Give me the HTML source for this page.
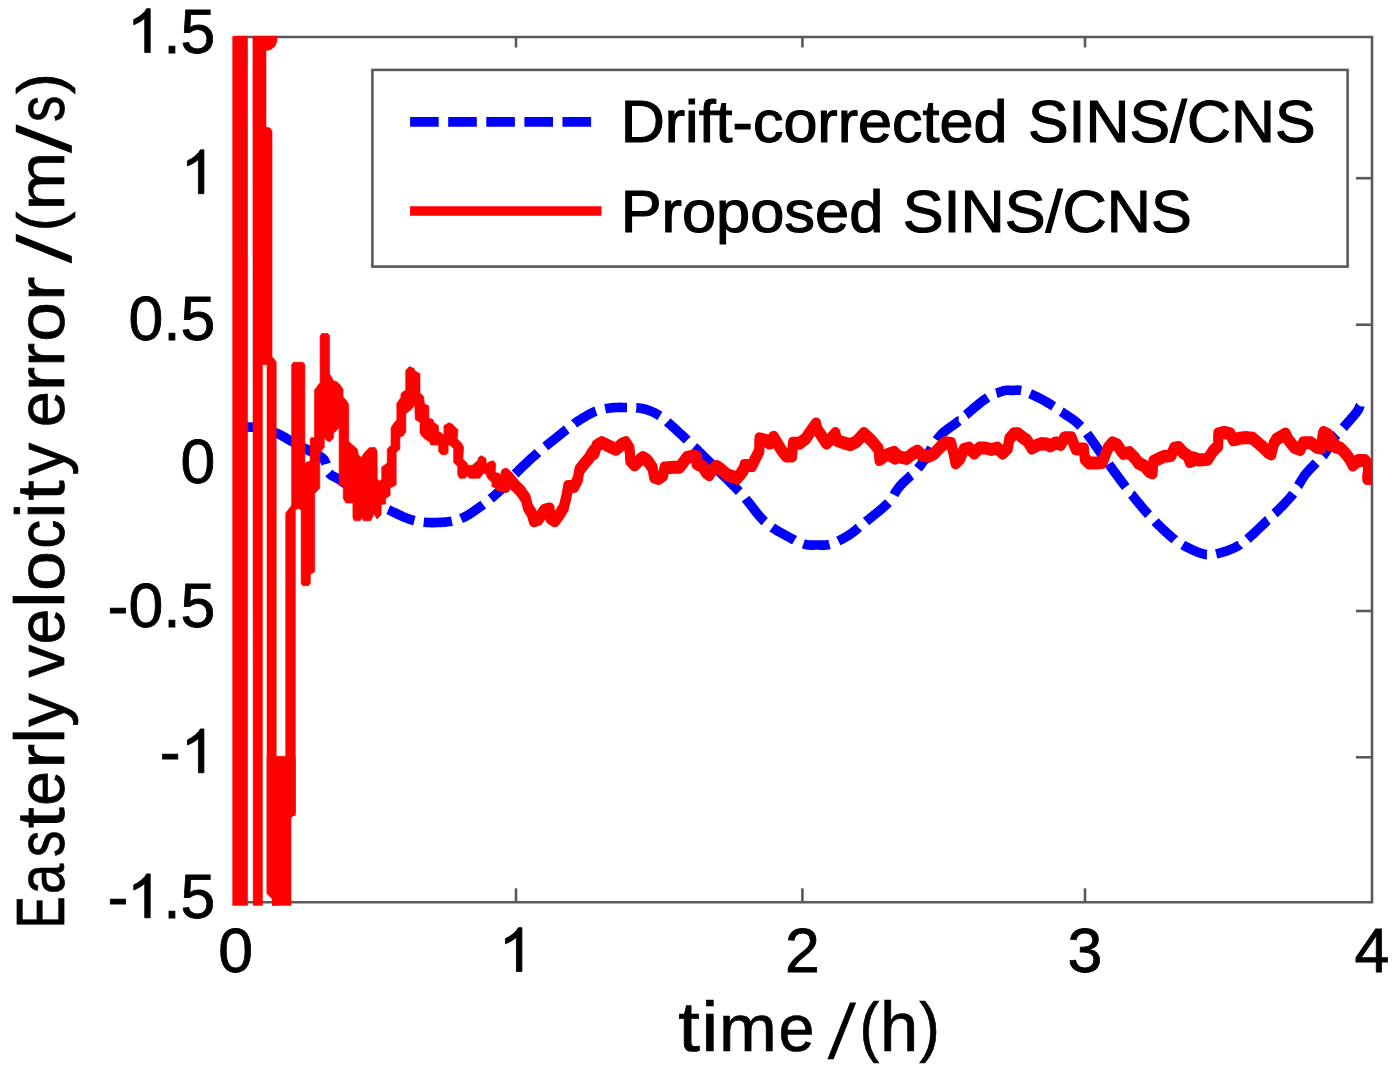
<!DOCTYPE html>
<html><head><meta charset="utf-8"><title>Easterly velocity error</title>
<style>html,body{margin:0;padding:0;background:#fff;}body{width:1400px;height:1073px;overflow:hidden;position:relative;}svg{display:block;position:absolute;left:0;top:0;}text{font-family:"Liberation Sans",sans-serif;fill:#000;}</style>
</head><body>
<svg width="1400" height="1073" viewBox="0 0 1400 1073">
<rect x="0" y="0" width="1400" height="1073" fill="#fff"/>
<g>
<g fill="none" stroke="#595959" stroke-width="2.6">
<polyline points="235.3,37.0 1372.0,37.0 1372.0,902.3 235.3,902.3"/>
<line x1="516.0" y1="902.3" x2="516.0" y2="888.3"/>
<line x1="516.0" y1="37.0" x2="516.0" y2="47.5"/>
<line x1="802.4" y1="902.3" x2="802.4" y2="888.3"/>
<line x1="802.4" y1="37.0" x2="802.4" y2="47.5"/>
<line x1="1085.0" y1="902.3" x2="1085.0" y2="888.3"/>
<line x1="1085.0" y1="37.0" x2="1085.0" y2="47.5"/>
<line x1="1372.0" y1="178.2" x2="1356.0" y2="178.2"/>
<line x1="1372.0" y1="324.7" x2="1356.0" y2="324.7"/>
<line x1="1372.0" y1="611.0" x2="1356.0" y2="611.0"/>
<line x1="1372.0" y1="757.3" x2="1356.0" y2="757.3"/>
</g>
<defs><clipPath id="c"><rect x="232.3" y="30" width="1139.2" height="875.7"/></clipPath></defs>
<g clip-path="url(#c)">
<polyline points="234.0,427.0 234.5,427.0 235.0,427.0 235.6,427.0 236.3,427.0 237.0,427.0 237.8,427.0 238.6,427.0 239.4,426.9 240.3,426.9 241.3,426.9 242.2,426.9 243.2,426.9 244.2,426.9 245.2,426.9 246.2,426.9 247.2,426.9 248.2,427.0 249.3,427.0 250.3,427.1 251.3,427.1 252.2,427.2 253.2,427.3 254.1,427.4 255.0,427.5 255.9,427.6 256.8,427.8 257.7,427.9 258.6,428.1 259.5,428.3 260.4,428.5 260.9,428.6" fill="none" stroke="#0000ff" stroke-width="9.6" stroke-linejoin="round"/>
<polyline points="270.1,431.0 270.3,431.1 271.2,431.3 272.0,431.6 272.8,431.9 273.7,432.2 274.5,432.4 275.2,432.7 276.0,433.0 276.7,433.3 277.5,433.6 278.2,433.9 278.9,434.2 279.5,434.5 280.2,434.8 280.8,435.2 281.5,435.5 282.1,435.8 282.7,436.2 283.3,436.5 283.9,436.9 284.5,437.2 285.1,437.6 285.7,437.9 286.3,438.3 286.9,438.6 287.5,439.0 288.0,439.3 288.6,439.7 289.2,440.0 289.8,440.3 290.4,440.7 291.0,441.0 291.6,441.3 292.2,441.6 292.8,442.0 293.3,442.2" fill="none" stroke="#0000ff" stroke-width="9.6" stroke-linejoin="round"/>
<polyline points="301.7,446.7 302.0,446.9 302.6,447.2 303.2,447.5 303.8,447.8 304.4,448.2 305.0,448.5 305.6,448.8 306.3,449.2 307.0,449.5 307.7,449.9 308.4,450.3 309.1,450.6 309.9,451.0 310.6,451.4 311.4,451.7 312.1,452.1 312.9,452.5 313.6,452.9 314.3,453.2 315.0,453.6 315.8,454.0 316.4,454.4 317.1,454.7 317.8,455.1 318.4,455.4 319.0,455.7 319.5,456.1 320.1,456.4 320.6,456.7 321.0,457.0 321.4,457.3 321.8,457.5 322.1,457.8 322.4,458.0 322.7,458.2 322.9,458.5 323.2,458.7 323.4,458.9 323.6,459.0 323.7,459.2 323.9,459.4 324.0,459.6 324.1,459.8 324.2,460.0 324.4,460.2 324.5,460.4 324.6,460.6 324.7,460.8 324.8,461.0 324.9,461.3 325.0,461.6 325.2,461.9 325.3,462.2 325.5,462.5 325.7,462.9 325.8,463.2 326.0,463.6 326.1,464.0" fill="none" stroke="#0000ff" stroke-width="9.6" stroke-linejoin="round"/>
<polyline points="329.1,473.0 329.2,473.1 329.5,473.5 329.8,473.8 330.1,474.2 330.4,474.5 330.7,474.7 331.0,475.0 331.3,475.2 331.7,475.4 332.0,475.6 332.3,475.8 332.7,476.0 333.1,476.2 333.4,476.4 333.8,476.6 334.3,476.8 334.7,477.0 335.2,477.2 335.7,477.5 336.2,477.7 336.8,478.0 337.3,478.4 337.9,478.7 338.6,479.1 339.3,479.5 340.0,480.0 340.8,480.5 341.6,481.1 342.4,481.6 343.3,482.3 344.3,482.9 345.2,483.6 346.2,484.3 347.3,485.0 348.3,485.8 349.4,486.5 350.5,487.3 351.1,487.7" fill="none" stroke="#0000ff" stroke-width="9.6" stroke-linejoin="round"/>
<polyline points="358.9,493.1 359.5,493.5 360.7,494.2 361.8,495.0 362.9,495.7 363.9,496.3 365.0,497.0 366.0,497.6 367.1,498.3 368.1,498.9 369.2,499.5 370.2,500.1 371.3,500.7 372.3,501.3 373.4,501.9 374.4,502.5 375.5,503.1 376.5,503.6 377.6,504.2 378.6,504.7 379.7,505.3 379.8,505.4" fill="none" stroke="#0000ff" stroke-width="9.6" stroke-linejoin="round"/>
<polyline points="388.3,509.7 389.0,510.0 390.0,510.5 391.0,511.0 392.0,511.5 393.1,512.0 394.1,512.5 395.1,512.9 396.1,513.4 397.1,513.9 398.1,514.4 399.1,514.9 400.1,515.3 401.1,515.8 402.1,516.2 403.1,516.7 404.1,517.1 405.1,517.5 406.1,517.9 407.1,518.3 408.1,518.6 409.1,519.0 410.1,519.3 411.1,519.7 412.0,520.0 413.0,520.2 414.0,520.5 414.4,520.6" fill="none" stroke="#0000ff" stroke-width="9.6" stroke-linejoin="round"/>
<polyline points="423.7,522.2 424.6,522.3 425.6,522.3 426.5,522.4 427.5,522.5 428.4,522.5 429.4,522.5 430.3,522.6 431.3,522.6 432.2,522.6 433.2,522.6 434.1,522.6 435.1,522.6 436.0,522.5 437.0,522.5 438.0,522.5 438.9,522.4 439.9,522.4 440.8,522.4 441.8,522.3 442.8,522.2 443.7,522.2 444.7,522.1 445.7,522.0 446.6,521.9 447.6,521.8 448.6,521.7 449.5,521.6 450.5,521.4 451.4,521.3 451.9,521.2" fill="none" stroke="#0000ff" stroke-width="9.6" stroke-linejoin="round"/>
<polyline points="461.0,518.6 461.9,518.2 462.8,517.8 463.8,517.3 464.7,516.9 465.7,516.4 466.6,515.8 467.6,515.3 468.5,514.7 469.4,514.2 470.4,513.6 471.3,513.0 472.2,512.4 473.2,511.7 474.1,511.1 475.0,510.5 475.9,509.8 476.8,509.2 477.7,508.6 478.6,508.0 479.4,507.3 480.3,506.7 481.2,506.1 482.0,505.5 482.8,504.9 483.2,504.6" fill="none" stroke="#0000ff" stroke-width="9.6" stroke-linejoin="round"/>
<polyline points="490.7,498.8 491.3,498.3 492.0,497.7 492.7,497.1 493.5,496.5 494.2,495.8 494.9,495.2 495.6,494.6 496.4,493.9 497.1,493.2 497.8,492.6 498.5,491.9 499.3,491.2 500.0,490.5 500.7,489.8 501.5,489.1 502.2,488.3 502.9,487.6 503.6,486.8 504.4,486.0 505.1,485.3 505.8,484.5 506.5,483.7 507.2,482.9 507.9,482.1 508.7,481.3 508.9,481.0" fill="none" stroke="#0000ff" stroke-width="9.6" stroke-linejoin="round"/>
<polyline points="515.2,474.0 515.2,474.0 516.0,473.2 516.7,472.4 517.5,471.6 518.3,470.8 519.1,470.0 519.8,469.3 520.6,468.5 521.4,467.7 522.2,466.9 523.1,466.2 523.9,465.4 524.7,464.6 525.5,463.8 526.3,463.1 527.2,462.3 528.0,461.5 528.8,460.7 529.6,460.0 530.5,459.2 531.3,458.5 532.1,457.7 532.9,457.0 533.8,456.3 534.6,455.5 535.4,454.8 536.2,454.1 537.0,453.4 537.8,452.7 537.9,452.6" fill="none" stroke="#0000ff" stroke-width="9.6" stroke-linejoin="round"/>
<polyline points="545.2,446.6 545.7,446.2 546.5,445.5 547.3,444.9 548.0,444.3 548.8,443.7 549.6,443.0 550.4,442.4 551.2,441.8 552.0,441.2 552.8,440.5 553.6,439.9 554.4,439.3 555.2,438.6 556.0,438.0 556.8,437.3 557.6,436.7 558.5,436.0 559.3,435.4 560.1,434.7 561.0,434.0 561.8,433.3 562.6,432.6 563.5,432.0 564.3,431.3 565.2,430.6 566.0,429.9 566.8,429.3" fill="none" stroke="#0000ff" stroke-width="9.6" stroke-linejoin="round"/>
<polyline points="574.3,423.6 574.4,423.5 575.2,423.0 576.0,422.4 576.8,421.8 577.6,421.3 578.5,420.8 579.3,420.2 580.1,419.7 580.9,419.2 581.7,418.7 582.6,418.1 583.4,417.6 584.2,417.2 585.0,416.7 585.8,416.2 586.6,415.7 587.4,415.3 588.2,414.8 589.0,414.4 589.8,414.0 590.6,413.6 591.3,413.2 592.1,412.8 592.8,412.5 593.6,412.1 594.3,411.8 595.0,411.5 595.7,411.2 596.0,411.1" fill="none" stroke="#0000ff" stroke-width="9.6" stroke-linejoin="round"/>
<polyline points="605.2,408.7 605.7,408.6 606.3,408.5 606.9,408.4 607.5,408.3 608.2,408.2 608.8,408.2 609.4,408.1 610.0,408.0 610.6,407.9 611.2,407.8 611.9,407.8 612.5,407.7 613.1,407.7 613.7,407.6 614.3,407.6 614.9,407.6 615.5,407.5 616.1,407.5 616.8,407.5 617.4,407.5 618.0,407.5 618.6,407.5 619.2,407.4 619.9,407.4 620.5,407.4 621.1,407.4 621.7,407.5 622.4,407.5 623.0,407.5 623.7,407.5 624.3,407.5 625.0,407.5 625.7,407.5 626.4,407.5 627.0,407.5" fill="none" stroke="#0000ff" stroke-width="9.6" stroke-linejoin="round"/>
<polyline points="636.4,407.8 636.5,407.8 637.2,407.9 637.9,407.9 638.6,408.0 639.3,408.1 640.0,408.2 640.7,408.3 641.3,408.4 642.0,408.5 642.6,408.6 643.3,408.8 643.9,408.9 644.5,409.1 645.1,409.2 645.8,409.4 646.4,409.6 647.0,409.8 647.6,409.9 648.1,410.1 648.7,410.3 649.3,410.6 649.9,410.8 650.5,411.0 651.0,411.2 651.6,411.5 652.2,411.7 652.7,412.0 653.3,412.2 653.8,412.5 654.4,412.8 654.9,413.0 655.5,413.3 656.0,413.6 656.5,413.9 657.0,414.2 657.5,414.5 658.0,414.8 658.5,415.1 659.0,415.4 659.4,415.7 659.9,416.0 659.9,416.0" fill="none" stroke="#0000ff" stroke-width="9.6" stroke-linejoin="round"/>
<polyline points="667.3,421.9 667.4,422.0 668.0,422.5 668.7,423.1 669.3,423.6 670.0,424.2 670.7,424.8 671.4,425.5 672.1,426.1 672.8,426.8 673.6,427.4 674.3,428.1 675.1,428.8 675.9,429.5 676.7,430.3 677.5,431.0 678.3,431.8 679.1,432.5 680.0,433.3 680.8,434.1 681.7,434.9 682.5,435.7 683.4,436.6 684.3,437.4 685.2,438.3 686.1,439.1 687.0,440.0 687.2,440.2" fill="none" stroke="#0000ff" stroke-width="9.6" stroke-linejoin="round"/>
<polyline points="694.0,446.8 694.7,447.4 695.7,448.4 696.7,449.4 697.8,450.4 698.8,451.5 699.9,452.5 700.9,453.5 702.0,454.6 703.1,455.7 704.2,456.7 705.3,457.8 706.4,458.9 707.5,460.0 708.6,461.1 709.7,462.2 710.9,463.4 711.6,464.1" fill="none" stroke="#0000ff" stroke-width="9.6" stroke-linejoin="round"/>
<polyline points="718.4,470.8 719.3,471.7 720.6,473.0 721.9,474.2 723.2,475.5 724.6,476.8 725.9,478.1 727.2,479.4 728.5,480.7 729.8,482.0 731.1,483.3 732.4,484.6 733.7,485.8 734.9,487.1 736.2,488.4 737.4,489.6 738.6,490.9 739.3,491.6" fill="none" stroke="#0000ff" stroke-width="9.6" stroke-linejoin="round"/>
<polyline points="745.6,498.6 746.1,499.3 747.1,500.5 748.1,501.7 749.0,502.9 750.0,504.1 750.9,505.2 751.8,506.4 752.7,507.6 753.6,508.8 754.4,509.9 755.3,511.0 756.2,512.1 757.0,513.2 757.9,514.3 758.8,515.3 759.6,516.4 760.5,517.3 761.4,518.3 762.2,519.2 763.1,520.1 764.0,521.0 764.7,521.6" fill="none" stroke="#0000ff" stroke-width="9.6" stroke-linejoin="round"/>
<polyline points="772.2,527.5 772.9,528.0 773.8,528.5 774.7,529.1 775.6,529.6 776.4,530.2 777.3,530.7 778.2,531.2 779.1,531.7 779.9,532.1 780.8,532.6 781.6,533.1 782.5,533.6 783.3,534.0 784.2,534.5 785.0,535.0 785.8,535.5 786.7,536.0 787.5,536.4 788.4,536.9 789.2,537.3 790.0,537.8 790.9,538.2 791.7,538.7 792.5,539.1 793.4,539.5 794.2,539.9 794.7,540.2" fill="none" stroke="#0000ff" stroke-width="9.6" stroke-linejoin="round"/>
<polyline points="803.4,543.8 804.0,544.0 804.7,544.2 805.3,544.4 805.9,544.5 806.5,544.7 807.1,544.8 807.6,544.9 808.2,544.9 808.7,545.0 809.3,545.0 809.8,545.1 810.3,545.1 810.8,545.1 811.3,545.1 811.8,545.1 812.3,545.1 812.8,545.1 813.3,545.1 813.8,545.1 814.3,545.1 814.8,545.0 815.4,545.0 815.9,545.0 816.4,545.0 817.0,545.0 817.6,545.0 818.1,545.0 818.7,545.0 819.2,545.0 819.8,545.1 820.3,545.1 820.9,545.1 821.4,545.1 822.0,545.1 822.6,545.1 823.1,545.1 823.7,545.1 824.3,545.1 824.8,545.1 825.4,545.0 826.0,545.0 826.6,544.9 827.2,544.9 827.8,544.8 828.4,544.7 829.1,544.5 829.5,544.4" fill="none" stroke="#0000ff" stroke-width="9.6" stroke-linejoin="round"/>
<polyline points="838.3,541.0 839.1,540.6 839.9,540.2 840.7,539.8 841.4,539.4 842.2,539.0 843.0,538.6 843.8,538.1 844.5,537.7 845.3,537.3 846.1,536.8 846.8,536.4 847.6,535.9 848.3,535.5 849.0,535.0 849.7,534.5 850.4,534.1 851.0,533.6 851.7,533.2 852.3,532.7 853.0,532.2 853.6,531.8 854.2,531.3 854.8,530.8 855.5,530.3 856.1,529.8 856.7,529.3 857.3,528.8 857.9,528.2 858.6,527.7 858.7,527.6" fill="none" stroke="#0000ff" stroke-width="9.6" stroke-linejoin="round"/>
<polyline points="866.0,521.5 866.7,520.9 867.6,520.2 868.6,519.4 869.5,518.7 870.5,517.9 871.5,517.1 872.6,516.3 873.6,515.4 874.6,514.6 875.7,513.8 876.8,512.9 877.8,512.1 878.8,511.2 879.9,510.4 880.9,509.5 881.9,508.7 882.9,507.8 883.8,507.0 884.7,506.2 885.6,505.3 886.4,504.5 887.2,503.8 888.0,503.0 888.4,502.6" fill="none" stroke="#0000ff" stroke-width="9.6" stroke-linejoin="round"/>
<polyline points="894.0,494.9 894.2,494.5 894.6,493.9 895.0,493.2 895.4,492.5 895.8,491.8 896.2,491.1 896.7,490.4 897.2,489.7 897.7,489.0 898.2,488.3 898.8,487.5 899.4,486.8 900.0,486.0 900.7,485.2 901.4,484.5 902.1,483.7 902.9,482.9 903.7,482.2 904.5,481.4 905.3,480.7 906.1,479.9 907.0,479.1 907.8,478.3 908.7,477.5 909.6,476.8 910.4,475.9 911.2,475.3" fill="none" stroke="#0000ff" stroke-width="9.6" stroke-linejoin="round"/>
<polyline points="917.9,468.5 918.3,468.0 919.2,467.0 920.0,466.0 920.8,465.0 921.6,463.9 922.4,462.7 923.2,461.5 924.0,460.3 924.8,459.1 925.6,457.8 926.4,456.5 927.2,455.2 928.0,453.9 928.7,452.6 929.5,451.2 930.3,449.9 931.1,448.6 931.5,447.9" fill="none" stroke="#0000ff" stroke-width="9.6" stroke-linejoin="round"/>
<polyline points="936.7,440.0 937.4,439.0 938.2,438.0 939.0,437.0 939.8,436.1 940.6,435.2 941.4,434.4 942.1,433.7 942.9,432.9 943.7,432.2 944.5,431.6 945.2,431.0 946.0,430.4 946.8,429.8 947.5,429.2 948.3,428.6 949.1,428.1 949.9,427.5 950.7,426.9 951.5,426.4 952.3,425.8 953.2,425.2 954.0,424.6 954.9,424.0 955.8,423.3 956.7,422.6 957.6,421.9 958.6,421.1 958.7,421.1" fill="none" stroke="#0000ff" stroke-width="9.6" stroke-linejoin="round"/>
<polyline points="965.9,414.9 966.2,414.7 967.3,413.7 968.5,412.6 969.7,411.6 970.9,410.6 972.1,409.6 973.3,408.5 974.5,407.5 975.7,406.5 976.9,405.6 978.0,404.6 979.2,403.7 980.3,402.8 981.4,401.9 982.4,401.1 983.5,400.4 984.5,399.7 985.4,399.0 986.3,398.4 987.2,397.8 987.8,397.4" fill="none" stroke="#0000ff" stroke-width="9.6" stroke-linejoin="round"/>
<polyline points="996.3,393.2 996.7,393.1 997.4,392.8 998.1,392.6 998.8,392.4 999.4,392.1 1000.1,391.9 1000.7,391.7 1001.3,391.5 1001.9,391.4 1002.4,391.2 1003.0,391.0 1003.5,390.8 1004.0,390.7 1004.5,390.6 1005.0,390.5 1005.4,390.4 1005.8,390.3 1006.2,390.3 1006.6,390.2 1006.9,390.2 1007.3,390.2 1007.6,390.2 1007.9,390.2 1008.2,390.2 1008.5,390.3 1008.9,390.3 1009.2,390.3 1009.5,390.3 1009.8,390.4 1010.1,390.4 1010.5,390.4 1010.8,390.5 1011.2,390.5 1011.6,390.5 1012.0,390.5 1012.4,390.5 1012.8,390.5 1013.2,390.5 1013.6,390.4 1014.0,390.4 1014.4,390.3 1014.8,390.3 1015.2,390.3 1015.6,390.2 1016.0,390.2 1016.4,390.2 1016.8,390.1 1017.2,390.1 1017.6,390.1 1018.1,390.1 1018.5,390.1 1019.0,390.2 1019.5,390.2 1020.0,390.3 1020.6,390.4 1021.2,390.5 1021.2,390.5" fill="none" stroke="#0000ff" stroke-width="9.6" stroke-linejoin="round"/>
<polyline points="1030.1,393.7 1031.0,394.1 1031.9,394.5 1032.8,394.9 1033.7,395.3 1034.7,395.8 1035.6,396.2 1036.5,396.7 1037.4,397.1 1038.4,397.6 1039.3,398.0 1040.2,398.5 1041.0,398.9 1041.9,399.4 1042.8,399.9 1043.6,400.3 1044.4,400.7 1045.2,401.2 1046.0,401.7 1046.8,402.1 1047.6,402.6 1048.4,403.1 1049.2,403.5 1050.0,404.0 1050.8,404.5 1051.5,405.0 1052.3,405.5 1053.1,406.0 1053.6,406.3" fill="none" stroke="#0000ff" stroke-width="9.6" stroke-linejoin="round"/>
<polyline points="1061.4,411.7 1061.6,411.8 1062.4,412.4 1063.2,413.0 1064.0,413.5 1064.8,414.0 1065.6,414.6 1066.4,415.1 1067.2,415.6 1068.0,416.1 1068.8,416.7 1069.6,417.2 1070.4,417.7 1071.2,418.3 1072.0,418.8 1072.8,419.4 1073.6,420.0 1074.4,420.6 1075.2,421.2 1076.0,421.9 1076.8,422.6 1077.7,423.3 1078.5,424.0 1079.3,424.8 1080.1,425.6 1080.8,426.3" fill="none" stroke="#0000ff" stroke-width="9.6" stroke-linejoin="round"/>
<polyline points="1087.0,433.5 1087.7,434.5 1088.6,435.6 1089.4,436.8 1090.3,438.0 1091.1,439.2 1092.0,440.4 1092.9,441.7 1093.7,442.9 1094.6,444.2 1095.5,445.4 1096.4,446.7 1097.3,448.0 1098.1,449.2 1099.0,450.5 1099.9,451.8 1100.8,453.0 1101.7,454.3 1102.6,455.5 1103.2,456.3" fill="none" stroke="#0000ff" stroke-width="9.6" stroke-linejoin="round"/>
<polyline points="1108.8,464.0 1109.0,464.3 1109.9,465.6 1110.8,466.8 1111.7,468.1 1112.7,469.4 1113.6,470.7 1114.5,472.0 1115.5,473.3 1116.4,474.6 1117.4,475.9 1118.3,477.1 1119.3,478.4 1120.2,479.7 1121.2,481.0 1122.1,482.2 1123.1,483.5 1124.0,484.8 1125.0,486.0 1125.8,487.0" fill="none" stroke="#0000ff" stroke-width="9.6" stroke-linejoin="round"/>
<polyline points="1131.6,494.5 1131.9,494.7 1132.9,496.0 1133.9,497.2 1134.9,498.5 1135.9,499.7 1136.9,501.0 1137.9,502.2 1138.9,503.4 1139.9,504.6 1140.9,505.8 1141.9,507.0 1142.9,508.2 1143.9,509.4 1144.9,510.5 1145.9,511.7 1146.9,512.8 1147.9,513.9 1148.6,514.6" fill="none" stroke="#0000ff" stroke-width="9.6" stroke-linejoin="round"/>
<polyline points="1155.1,521.5 1156.0,522.5 1157.1,523.6 1158.1,524.6 1159.2,525.6 1160.2,526.6 1161.2,527.6 1162.2,528.6 1163.2,529.6 1164.3,530.5 1165.3,531.5 1166.2,532.4 1167.2,533.3 1168.2,534.1 1169.1,534.9 1170.0,535.8 1170.9,536.5 1171.8,537.3 1172.7,538.0 1173.5,538.7 1174.4,539.3 1174.8,539.7" fill="none" stroke="#0000ff" stroke-width="9.6" stroke-linejoin="round"/>
<polyline points="1182.7,544.9 1183.2,545.2 1183.9,545.6 1184.6,546.0 1185.2,546.3 1185.9,546.7 1186.6,547.0 1187.3,547.3 1187.9,547.7 1188.6,548.0 1189.3,548.4 1190.0,548.7 1190.7,549.0 1191.4,549.4 1192.1,549.7 1192.8,550.0 1193.5,550.3 1194.2,550.7 1194.9,551.0 1195.6,551.2 1196.3,551.5 1197.0,551.8 1197.6,552.1 1198.3,552.3 1199.0,552.6 1199.7,552.8 1200.4,553.0 1201.0,553.3 1201.7,553.5 1202.3,553.6 1203.0,553.8 1203.6,554.0 1204.2,554.1 1204.8,554.3 1205.4,554.4 1206.0,554.5 1206.6,554.6 1206.9,554.6" fill="none" stroke="#0000ff" stroke-width="9.6" stroke-linejoin="round"/>
<polyline points="1216.2,554.0 1216.6,553.9 1217.3,553.7 1218.0,553.5 1218.7,553.3 1219.5,553.1 1220.3,552.8 1221.1,552.6 1222.0,552.4 1222.8,552.1 1223.7,551.8 1224.6,551.6 1225.5,551.3 1226.5,551.0 1227.5,550.6 1228.4,550.3 1229.4,549.9 1230.4,549.5 1231.4,549.1 1232.4,548.7 1233.5,548.2 1234.5,547.7 1235.5,547.2 1236.6,546.7 1237.6,546.1 1238.6,545.5 1239.7,544.9 1239.8,544.8" fill="none" stroke="#0000ff" stroke-width="9.6" stroke-linejoin="round"/>
<polyline points="1247.4,539.1 1248.3,538.3 1249.4,537.3 1250.6,536.3 1251.7,535.3 1252.9,534.3 1254.0,533.2 1255.2,532.1 1256.3,531.0 1257.5,529.9 1258.6,528.8 1259.8,527.7 1260.9,526.6 1262.0,525.6 1263.2,524.5 1264.3,523.4 1265.4,522.4 1266.4,521.3 1267.5,520.3 1267.8,520.1" fill="none" stroke="#0000ff" stroke-width="9.6" stroke-linejoin="round"/>
<polyline points="1274.6,513.5 1275.0,513.2 1276.0,512.1 1277.1,511.1 1278.2,510.1 1279.2,509.1 1280.2,508.0 1281.3,507.0 1282.3,506.0 1283.3,505.0 1284.3,503.9 1285.2,502.9 1286.2,501.9 1287.1,500.9 1288.0,499.9 1288.9,498.9 1289.8,497.9 1290.6,497.0 1291.4,496.0 1292.2,495.0 1292.9,494.1 1293.2,493.7" fill="none" stroke="#0000ff" stroke-width="9.6" stroke-linejoin="round"/>
<polyline points="1298.3,485.7 1298.4,485.6 1298.9,484.7 1299.4,483.8 1300.0,482.8 1300.5,481.9 1301.0,481.0 1301.6,480.1 1302.1,479.2 1302.7,478.3 1303.2,477.5 1303.8,476.6 1304.4,475.7 1305.0,474.9 1305.7,474.0 1306.4,473.2 1307.1,472.3 1307.8,471.5 1308.6,470.6 1309.3,469.8 1310.1,469.0 1310.9,468.2 1311.6,467.4 1312.4,466.6 1313.2,465.8 1314.0,465.0 1314.8,464.2 1315.6,463.5 1316.3,462.8" fill="none" stroke="#0000ff" stroke-width="9.6" stroke-linejoin="round"/>
<polyline points="1322.9,455.9 1323.0,455.8 1323.6,455.0 1324.2,454.2 1324.8,453.4 1325.3,452.6 1325.9,451.8 1326.4,451.0 1326.9,450.2 1327.4,449.4 1327.9,448.6 1328.4,447.8 1328.9,447.0 1329.3,446.2 1329.8,445.4 1330.2,444.7 1330.6,443.9 1331.1,443.1 1331.5,442.4 1331.9,441.6 1332.3,440.9 1332.7,440.2 1333.1,439.5 1333.6,438.9 1334.0,438.2 1334.4,437.6 1334.8,437.0 1335.2,436.4 1335.6,435.9 1336.0,435.4 1336.4,434.9 1336.8,434.5 1336.8,434.5" fill="none" stroke="#0000ff" stroke-width="9.6" stroke-linejoin="round"/>
<polyline points="1343.3,427.6 1343.4,427.5 1343.8,427.0 1344.3,426.5 1344.7,426.0 1345.2,425.4 1345.7,424.8 1346.3,424.2 1346.8,423.6 1347.4,423.0 1347.9,422.4 1348.5,421.7 1349.1,421.1 1349.6,420.5 1350.2,419.8 1350.8,419.2 1351.3,418.5 1351.9,417.9 1352.4,417.3 1352.9,416.7 1353.5,416.1 1353.9,415.5 1354.4,415.0 1354.8,414.4 1355.3,413.9 1355.6,413.5 1356.0,413.0 1356.3,412.6 1356.6,412.1 1356.9,411.7 1357.2,411.3 1357.4,411.0 1357.7,410.6 1357.9,410.2 1358.1,409.9 1358.3,409.6 1358.5,409.2 1358.6,408.9 1358.8,408.6 1358.9,408.3 1359.0,408.1 1359.2,407.8 1359.3,407.6 1359.4,407.3 1359.5,407.1 1359.6,406.9 1359.7,406.7 1359.7,406.5 1359.8,406.3 1359.9,406.2 1360.0,406.0" fill="none" stroke="#0000ff" stroke-width="9.6" stroke-linejoin="round"/>
<polygon points="232.5,36.3 247.5,36.3 247.5,905.7 232.5,905.7" fill="#ff0000" stroke="#ff0000" stroke-width="0.6" stroke-linejoin="round"/>
<polygon points="252.9,36.3 277.0,36.3 277.0,41.0 275.0,46.0 271.0,49.5 266.0,50.5 266.0,127.0 270.0,128.0 272.0,131.0 272.0,356.5 276.2,361.8 276.2,893.0 276.2,905.7 272.5,905.7 272.5,899.0 267.0,893.3 267.0,364.7 262.4,364.7 262.4,905.7 253.2,905.7" fill="#ff0000" stroke="#ff0000" stroke-width="0.6" stroke-linejoin="round"/>
<polygon points="267.0,756.2 295.3,756.2 295.3,813.0 293.0,816.0 291.0,818.0 291.0,905.7 272.5,905.7 272.5,899.0 267.0,893.3" fill="#ff0000" stroke="#ff0000" stroke-width="0.6" stroke-linejoin="round"/>
<polygon points="285.7,513.0 291.9,505.0 295.3,505.0 295.3,815.5 285.7,815.5" fill="#ff0000" stroke="#ff0000" stroke-width="0.6" stroke-linejoin="round"/>
<polygon points="291.6,364.5 293.5,362.2 303.0,362.2 304.9,364.5 304.9,463.0 310.1,461.0 314.7,461.0 314.7,571.8 313.0,573.0 310.4,574.0 310.4,583.5 308.5,585.7 303.0,585.7 301.1,583.5 301.1,510.0 298.2,508.5 295.3,510.0 291.6,510.0" fill="#ff0000" stroke="#ff0000" stroke-width="0.6" stroke-linejoin="round"/>
<polygon points="310.1,461.0 310.1,439.0 311.5,437.4 314.5,437.4 314.5,389.9 320.1,382.6 320.1,336.0 321.5,333.5 328.0,333.5 329.6,336.0 329.6,373.7 333.6,380.9 336.4,381.5 339.7,384.3 343.1,389.3 343.1,397.1 346.4,400.5 348.7,404.4 348.7,441.3 352.6,445.0 357.3,449.0 358.4,454.7 361.2,457.5 364.6,452.4 369.6,447.4 375.2,447.4 377.1,451.0 377.3,479.0 379.5,481.3 381.7,479.0 381.7,467.0 384.0,465.6 387.2,463.0 387.2,449.2 390.0,446.0 391.0,446.0 391.0,427.6 394.0,423.0 396.8,420.1 396.8,403.3 400.7,397.7 401.2,393.2 405.7,389.9 405.7,370.3 409.6,366.4 414.1,368.6 415.2,370.9 420.0,373.7 420.0,392.7 423.5,396.3 424.5,403.7 428.9,406.0 428.9,417.9 433.4,419.8 433.8,422.4 438.3,425.4 438.6,431.3 443.9,434.7 443.9,425.7 448.7,422.7 452.1,423.9 458.0,429.8 457.3,438.8 461.4,442.9 463.6,447.0 462.9,458.9 467.4,463.4 467.7,465.2 472.2,465.2 477.8,460.4 478.5,457.4 481.5,455.6 486.0,458.5 486.4,464.1 489.4,461.5 493.5,460.8 495.7,463.4 495.3,472.0 499.4,476.1 500.1,477.3 500.1,490.0 497.2,488.5 491.9,486.6 491.9,482.5 487.5,478.0 485.6,473.5 483.4,473.5 479.7,478.3 469.2,478.3 467.7,475.7 464.7,478.3 459.5,478.3 457.7,474.6 457.7,466.4 453.6,462.6 453.6,448.5 449.8,445.1 448.0,445.9 448.3,452.2 446.1,454.8 441.6,454.8 438.6,451.5 438.6,445.1 430.8,445.1 429.7,442.1 424.5,438.8 421.5,435.8 420.0,432.8 420.0,422.4 415.2,419.4 414.8,405.2 410.3,410.4 405.9,413.4 405.9,432.0 403.0,436.0 399.9,437.3 399.9,449.2 396.2,452.2 396.2,485.0 390.2,488.0 390.2,495.4 385.7,498.4 385.7,504.0 381.3,504.4 381.3,514.8 377.0,519.0 374.0,514.0 370.8,520.8 363.0,520.8 362.6,517.8 360.0,520.8 354.4,520.8 352.9,517.8 352.9,503.0 346.0,503.0 343.2,498.4 343.2,485.7 339.1,485.7 339.1,427.6 335.8,431.3 333.6,433.0 333.6,438.0 329.6,441.9 326.3,440.2 324.3,436.9 324.3,447.0 319.8,453.6 319.8,488.2 314.3,493.8 314.3,461.0" fill="#ff0000" stroke="#ff0000" stroke-width="0.6" stroke-linejoin="round"/>
<polyline points="496.7,477.4 499.6,483.4 505.6,484.9 505.6,473.0 508.6,475.9 514.6,483.4 520.5,489.4 525.7,496.8 528.0,505.8 531.7,511.7 533.9,519.2 538.4,517.7 544.4,508.7 549.6,507.3 550.3,516.2 554.8,519.2 559.3,513.2 563.8,505.8 566.7,493.8 568.2,484.9 574.2,484.9 577.9,477.4 579.4,468.5 583.9,462.5 589.1,456.6 593.6,449.1 590.0,454.4 594.5,451.5 596.7,444.0 601.9,441.0 609.4,444.8 616.1,447.7 622.1,442.5 625.8,441.0 629.5,447.0 630.3,458.9 634.7,463.4 639.2,458.9 642.9,455.9 647.4,458.9 652.6,466.4 654.1,475.3 658.6,476.8 663.1,473.8 664.6,466.4 673.5,465.6 679.5,465.6 682.5,461.9 686.9,455.9 694.4,454.4 697.4,455.9 696.6,461.9 702.6,464.9 706.3,470.9 709.3,473.1 712.3,467.9 716.7,464.9 721.2,467.9 727.2,473.1 731.7,474.6 736.9,476.8 742.1,470.9 745.1,464.9 740.0,473.0 743.7,468.5 744.5,464.0 751.9,464.0 754.9,458.0 759.4,449.1 759.4,437.2 765.3,438.7 769.8,441.6 773.6,435.7 777.3,441.6 781.8,449.1 786.2,454.3 792.2,454.3 792.9,441.6 799.6,441.6 805.6,437.2 810.1,430.5 816.0,422.3 817.5,428.2 823.5,437.2 826.5,441.6 831.0,437.2 835.4,432.0 836.9,438.7 844.4,441.6 850.3,443.1 856.3,440.2 863.8,432.0 871.2,438.7 878.7,447.6 879.4,458.0 884.6,454.3 892.1,451.3 895.1,456.6 890.0,453.8 894.5,450.9 898.9,455.3 906.4,456.8 912.4,452.3 917.6,449.4 922.1,453.8 928.8,454.6 934.7,451.6 940.7,444.9 945.2,441.2 951.1,441.9 953.4,450.9 955.6,461.3 960.1,456.8 963.8,447.9 969.0,446.4 974.2,451.6 979.5,446.4 985.4,446.4 991.4,447.9 997.4,446.4 1002.6,451.6 1007.8,446.4 1009.3,437.4 1013.8,432.2 1018.2,432.2 1022.7,435.9 1027.2,438.9 1031.7,446.4 1037.6,443.4 1042.1,441.9 1040.0,442.8 1046.0,442.1 1050.4,444.3 1055.7,441.3 1060.9,442.8 1064.6,436.1 1071.3,436.1 1074.3,443.6 1075.8,447.3 1084.0,447.3 1084.7,457.0 1089.2,461.5 1096.7,461.5 1102.6,460.7 1105.6,452.5 1107.8,446.6 1112.3,441.3 1117.5,443.6 1121.3,449.5 1123.5,451.8 1129.5,451.0 1135.4,457.0 1138.4,461.5 1144.4,464.4 1148.9,469.7 1152.6,471.2 1153.3,460.0 1159.3,457.0 1163.8,454.8 1171.2,454.0 1174.2,446.6 1178.7,445.8 1183.2,451.0 1187.6,454.0 1189.9,460.0 1193.6,458.5 1190.0,457.6 1193.0,456.1 1198.9,458.4 1207.9,457.6 1212.4,450.2 1218.3,444.2 1218.3,432.3 1224.3,430.8 1230.3,432.3 1233.2,438.2 1239.2,436.7 1246.7,436.0 1252.6,436.7 1257.1,440.5 1263.1,445.7 1267.5,450.2 1271.3,452.4 1273.5,442.7 1276.5,437.5 1281.0,435.2 1285.4,432.3 1288.4,438.2 1294.4,445.7 1300.3,447.9 1303.3,441.2 1310.8,441.2 1316.7,445.7 1321.2,446.4 1322.7,433.0 1327.2,433.0 1331.7,440.5 1337.6,445.7 1323.1,441.0 1323.6,431.0 1328.1,433.2 1332.6,439.9 1335.9,445.5 1340.4,446.6 1344.9,451.1 1349.3,456.7 1352.7,463.4 1358.3,458.9 1365.0,458.9 1368.4,463.4 1367.2,476.8 1373.9,476.8" fill="none" stroke="#ff0000" stroke-width="9.8" stroke-linejoin="round" stroke-linecap="round"/>
<polyline points="496.7,480.6 499.6,486.6 505.6,488.1 505.6,476.2 508.6,479.1 514.6,486.6 520.5,492.6 525.7,500.0 528.0,509.0 531.7,514.9 533.9,522.4 538.4,520.9 544.4,511.9 549.6,510.5 550.3,519.4 554.8,522.4 559.3,516.4 563.8,509.0 566.7,497.0 568.2,488.1 574.2,488.1 577.9,480.6 579.4,471.7 583.9,465.7 589.1,459.8 593.6,452.3 590.0,457.6 594.5,454.7 596.7,447.2 601.9,444.2 609.4,448.0 616.1,450.9 622.1,445.7 625.8,444.2 629.5,450.2 630.3,462.1 634.7,466.6 639.2,462.1 642.9,459.1 647.4,462.1 652.6,469.6 654.1,478.5 658.6,480.0 663.1,477.0 664.6,469.6 673.5,468.8 679.5,468.8 682.5,465.1 686.9,459.1 694.4,457.6 697.4,459.1 696.6,465.1 702.6,468.1 706.3,474.1 709.3,476.3 712.3,471.1 716.7,468.1 721.2,471.1 727.2,476.3 731.7,477.8 736.9,480.0 742.1,474.1 745.1,468.1 740.0,476.2 743.7,471.7 744.5,467.2 751.9,467.2 754.9,461.2 759.4,452.3 759.4,440.4 765.3,441.9 769.8,444.8 773.6,438.9 777.3,444.8 781.8,452.3 786.2,457.5 792.2,457.5 792.9,444.8 799.6,444.8 805.6,440.4 810.1,433.7 816.0,425.5 817.5,431.4 823.5,440.4 826.5,444.8 831.0,440.4 835.4,435.2 836.9,441.9 844.4,444.8 850.3,446.3 856.3,443.4 863.8,435.2 871.2,441.9 878.7,450.8 879.4,461.2 884.6,457.5 892.1,454.5 895.1,459.8 890.0,457.0 894.5,454.1 898.9,458.5 906.4,460.0 912.4,455.5 917.6,452.6 922.1,457.0 928.8,457.8 934.7,454.8 940.7,448.1 945.2,444.4 951.1,445.1 953.4,454.1 955.6,464.5 960.1,460.0 963.8,451.1 969.0,449.6 974.2,454.8 979.5,449.6 985.4,449.6 991.4,451.1 997.4,449.6 1002.6,454.8 1007.8,449.6 1009.3,440.6 1013.8,435.4 1018.2,435.4 1022.7,439.1 1027.2,442.1 1031.7,449.6 1037.6,446.6 1042.1,445.1 1040.0,446.0 1046.0,445.3 1050.4,447.5 1055.7,444.5 1060.9,446.0 1064.6,439.3 1071.3,439.3 1074.3,446.8 1075.8,450.5 1084.0,450.5 1084.7,460.2 1089.2,464.7 1096.7,464.7 1102.6,463.9 1105.6,455.7 1107.8,449.8 1112.3,444.5 1117.5,446.8 1121.3,452.7 1123.5,455.0 1129.5,454.2 1135.4,460.2 1138.4,464.7 1144.4,467.6 1148.9,472.9 1152.6,474.4 1153.3,463.2 1159.3,460.2 1163.8,458.0 1171.2,457.2 1174.2,449.8 1178.7,449.0 1183.2,454.2 1187.6,457.2 1189.9,463.2 1193.6,461.7 1190.0,460.8 1193.0,459.3 1198.9,461.6 1207.9,460.8 1212.4,453.4 1218.3,447.4 1218.3,435.5 1224.3,434.0 1230.3,435.5 1233.2,441.4 1239.2,439.9 1246.7,439.2 1252.6,439.9 1257.1,443.7 1263.1,448.9 1267.5,453.4 1271.3,455.6 1273.5,445.9 1276.5,440.7 1281.0,438.4 1285.4,435.5 1288.4,441.4 1294.4,448.9 1300.3,451.1 1303.3,444.4 1310.8,444.4 1316.7,448.9 1321.2,449.6 1322.7,436.2 1327.2,436.2 1331.7,443.7 1337.6,448.9 1323.1,444.2 1323.6,434.2 1328.1,436.4 1332.6,443.1 1335.9,448.7 1340.4,449.8 1344.9,454.3 1349.3,459.9 1352.7,466.6 1358.3,462.1 1365.0,462.1 1368.4,466.6 1367.2,480.0 1373.9,480.0" fill="none" stroke="#ff0000" stroke-width="9.8" stroke-linejoin="round" stroke-linecap="round"/>
</g>
<rect x="372.4" y="69.9" width="975.2" height="196.7" fill="#fff" stroke="#595959" stroke-width="2.6"/>
<line x1="410.1" y1="121.8" x2="592.2" y2="121.8" stroke="#0000ff" stroke-width="9.7" stroke-dasharray="28.6 9.5"/>
<line x1="410.1" y1="211" x2="601.5" y2="211" stroke="#ff0000" stroke-width="9.7"/>
<text transform="translate(620.66 142.40) scale(1.0438 1)" font-size="58.5" stroke="#000" stroke-width="1.1">Drift-corrected</text>
<text transform="translate(1028.03 142.40) scale(1.0404 1)" font-size="58.5" stroke="#000" stroke-width="1.1">SINS/CNS</text>
<text transform="translate(620.64 231.60) scale(1.0490 1)" font-size="58.5" stroke="#000" stroke-width="1.1">Proposed</text>
<text transform="translate(902.71 231.60) scale(1.0463 1)" font-size="58.5" stroke="#000" stroke-width="1.1">SINS/CNS</text>
<path d="M763,0 L583,0 L583,-1147 Q518,-1085 412.5,-1023 Q307,-961 223,-930 L223,-1104 Q374,-1175 487,-1276 Q600,-1377 647,-1472 L763,-1472 Z" transform="translate(126.89 52.50) scale(0.03057 0.02980)" fill="#000" stroke="#000" stroke-width="26.2" stroke-linejoin="miter"/><text x="163.19" y="52.50" font-size="62.6" stroke="#000" stroke-width="0.8">.</text><text x="180.59" y="52.50" font-size="62.6" stroke="#000" stroke-width="0.8">5</text>
<path d="M763,0 L583,0 L583,-1147 Q518,-1085 412.5,-1023 Q307,-961 223,-930 L223,-1104 Q374,-1175 487,-1276 Q600,-1377 647,-1472 L763,-1472 Z" transform="translate(180.59 193.70) scale(0.03057 0.02980)" fill="#000" stroke="#000" stroke-width="26.2" stroke-linejoin="miter"/>
<text x="128.39" y="340.20" font-size="62.6" stroke="#000" stroke-width="0.8">0</text><text x="163.19" y="340.20" font-size="62.6" stroke="#000" stroke-width="0.8">.</text><text x="180.59" y="340.20" font-size="62.6" stroke="#000" stroke-width="0.8">5</text>
<text x="180.59" y="483.40" font-size="62.6" stroke="#000" stroke-width="0.8">0</text>
<text x="107.54" y="626.50" font-size="62.6" stroke="#000" stroke-width="0.8">-</text><text x="128.39" y="626.50" font-size="62.6" stroke="#000" stroke-width="0.8">0</text><text x="163.19" y="626.50" font-size="62.6" stroke="#000" stroke-width="0.8">.</text><text x="180.59" y="626.50" font-size="62.6" stroke="#000" stroke-width="0.8">5</text>
<text x="159.75" y="772.80" font-size="62.6" stroke="#000" stroke-width="0.8">-</text><path d="M763,0 L583,0 L583,-1147 Q518,-1085 412.5,-1023 Q307,-961 223,-930 L223,-1104 Q374,-1175 487,-1276 Q600,-1377 647,-1472 L763,-1472 Z" transform="translate(180.59 772.80) scale(0.03057 0.02980)" fill="#000" stroke="#000" stroke-width="26.2" stroke-linejoin="miter"/>
<text x="107.54" y="917.80" font-size="62.6" stroke="#000" stroke-width="0.8">-</text><path d="M763,0 L583,0 L583,-1147 Q518,-1085 412.5,-1023 Q307,-961 223,-930 L223,-1104 Q374,-1175 487,-1276 Q600,-1377 647,-1472 L763,-1472 Z" transform="translate(126.89 917.80) scale(0.03057 0.02980)" fill="#000" stroke="#000" stroke-width="26.2" stroke-linejoin="miter"/><text x="163.19" y="917.80" font-size="62.6" stroke="#000" stroke-width="0.8">.</text><text x="180.59" y="917.80" font-size="62.6" stroke="#000" stroke-width="0.8">5</text>
<text x="218.20" y="971.50" font-size="62.6" stroke="#000" stroke-width="0.8">0</text>
<path d="M763,0 L583,0 L583,-1147 Q518,-1085 412.5,-1023 Q307,-961 223,-930 L223,-1104 Q374,-1175 487,-1276 Q600,-1377 647,-1472 L763,-1472 Z" transform="translate(498.60 971.50) scale(0.03057 0.02980)" fill="#000" stroke="#000" stroke-width="26.2" stroke-linejoin="miter"/>
<text x="785.00" y="971.50" font-size="62.6" stroke="#000" stroke-width="0.8">2</text>
<text x="1067.60" y="971.50" font-size="62.6" stroke="#000" stroke-width="0.8">3</text>
<text x="1354.60" y="971.50" font-size="62.6" stroke="#000" stroke-width="0.8">4</text>
<text transform="translate(678.13 1050.70) scale(1.1538 1.0300)" font-size="67.5" stroke="#000" stroke-width="0.7">t</text>
<text transform="translate(701.20 1050.70) scale(1.1480 1.0300)" font-size="67.5" stroke="#000" stroke-width="0.7">i</text>
<text transform="translate(718.90 1050.70) scale(1.0286 1.0000)" font-size="67.5" stroke="#000" stroke-width="0.7">m</text>
<text transform="translate(778.56 1050.70) scale(0.9592 1.0000)" font-size="67.5" stroke="#000" stroke-width="0.7">e</text>
<text transform="translate(859.58 1048.70) scale(0.8806 0.9850)" font-size="67.5" stroke="#000" stroke-width="0.7">(</text>
<text transform="translate(879.88 1050.70) scale(1.0182 1.0400)" font-size="67.5" stroke="#000" stroke-width="0.7">h</text>
<text transform="translate(919.31 1048.70) scale(0.9176 0.9850)" font-size="67.5" stroke="#000" stroke-width="0.7">)</text>
<polygon points="850.0,1002.5 856.2,1002.5 833.6,1059.3 827.4,1059.3" fill="#000"/>
<text transform="translate(63.50 928.18) rotate(-90) scale(0.7139 1.0350)" font-size="67" stroke="#000" stroke-width="0.7">E</text>
<text transform="translate(63.50 893.95) rotate(-90) scale(0.8122 1.0000)" font-size="67" stroke="#000" stroke-width="0.7">a</text>
<text transform="translate(63.50 857.05) rotate(-90) scale(0.7885 1.0000)" font-size="67" stroke="#000" stroke-width="0.7">s</text>
<text transform="translate(63.50 828.36) rotate(-90) scale(1.1286 1.0000)" font-size="67" stroke="#000" stroke-width="0.7">t</text>
<text transform="translate(63.50 805.73) rotate(-90) scale(0.9286 1.0000)" font-size="67" stroke="#000" stroke-width="0.7">e</text>
<text transform="translate(63.50 768.82) rotate(-90) scale(1.1194 1.0000)" font-size="67" stroke="#000" stroke-width="0.7">r</text>
<text transform="translate(63.50 743.69) rotate(-90) scale(1.0502 1.0580)" font-size="67" stroke="#000" stroke-width="0.7">l</text>
<text transform="translate(63.50 726.82) rotate(-90) scale(0.9997 1.0000)" font-size="67" stroke="#000" stroke-width="0.7">y</text>
<text transform="translate(63.50 677.49) rotate(-90) scale(0.9778 1.0000)" font-size="67" stroke="#000" stroke-width="0.7">v</text>
<text transform="translate(63.50 644.40) rotate(-90) scale(0.9567 1.0000)" font-size="67" stroke="#000" stroke-width="0.7">e</text>
<text transform="translate(63.50 607.91) rotate(-90) scale(1.1263 1.0580)" font-size="67" stroke="#000" stroke-width="0.7">l</text>
<text transform="translate(63.50 590.95) rotate(-90) scale(1.0681 1.0000)" font-size="67" stroke="#000" stroke-width="0.7">o</text>
<text transform="translate(63.50 548.45) rotate(-90) scale(0.8564 1.0000)" font-size="67" stroke="#000" stroke-width="0.7">c</text>
<text transform="translate(63.50 518.44) rotate(-90) scale(1.0486 1.0300)" font-size="67" stroke="#000" stroke-width="0.7">i</text>
<text transform="translate(63.50 500.42) rotate(-90) scale(1.0780 1.0000)" font-size="67" stroke="#000" stroke-width="0.7">t</text>
<text transform="translate(63.50 475.52) rotate(-90) scale(0.9728 1.0000)" font-size="67" stroke="#000" stroke-width="0.7">y</text>
<text transform="translate(63.50 427.23) rotate(-90) scale(0.9691 1.0000)" font-size="67" stroke="#000" stroke-width="0.7">e</text>
<text transform="translate(63.50 391.03) rotate(-90) scale(1.0735 1.0000)" font-size="67" stroke="#000" stroke-width="0.7">r</text>
<text transform="translate(63.50 366.71) rotate(-90) scale(1.0677 1.0000)" font-size="67" stroke="#000" stroke-width="0.7">r</text>
<text transform="translate(63.50 341.64) rotate(-90) scale(1.0650 1.0000)" font-size="67" stroke="#000" stroke-width="0.7">o</text>
<text transform="translate(63.50 300.63) rotate(-90) scale(1.0735 1.0000)" font-size="67" stroke="#000" stroke-width="0.7">r</text>
<text transform="translate(61.50 231.18) rotate(-90) scale(0.8814 0.9530)" font-size="67" stroke="#000" stroke-width="0.7">(</text>
<text transform="translate(63.50 210.16) rotate(-90) scale(1.0469 1.0000)" font-size="67" stroke="#000" stroke-width="0.7">m</text>
<text transform="translate(63.50 122.05) rotate(-90) scale(0.7885 1.0000)" font-size="67" stroke="#000" stroke-width="0.7">s</text>
<text transform="translate(61.50 93.99) rotate(-90) scale(0.9302 0.9530)" font-size="67" stroke="#000" stroke-width="0.7">)</text>
<polygon points="15.8,233.7 15.8,241.3 71.8,263.6 71.8,256.0" fill="#000"/>
<polygon points="15.8,124.3 15.8,131.9 71.8,153.2 71.8,145.6" fill="#000"/>
</g>
</svg></body></html>
